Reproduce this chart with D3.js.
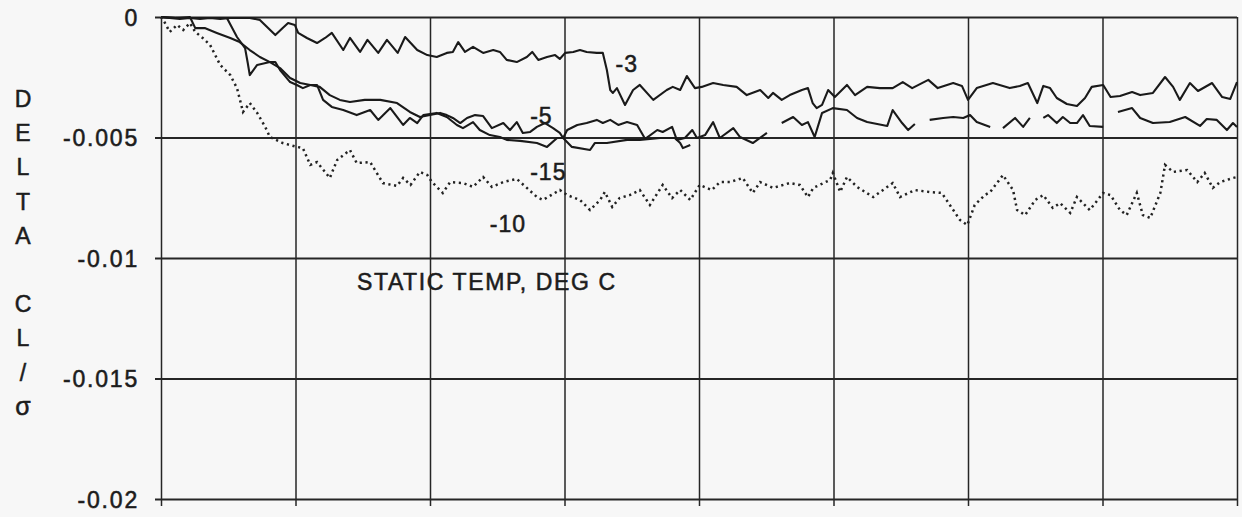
<!DOCTYPE html>
<html>
<head>
<meta charset="utf-8">
<script src="https://cdn.jsdelivr.net/npm/d3@7"></script>
<style>
  html, body { margin: 0; padding: 0; background: #f7f7f7; }
  svg { display: block; }
  text { font-family: "Liberation Sans", Arial, Helvetica, sans-serif; fill: #1c1c1c; stroke: #1c1c1c; stroke-width: 0.55px; }
</style>
</head>
<body>
<svg id="chart" width="1242" height="517"></svg>
<script>
// Change in lift coefficient over solidity vs. time step, by static temperature (deg C)
const xGrid = [0, 20, 40, 60, 80, 100, 120, 140, 160];
const yTicks = [0, -0.005, -0.01, -0.015, -0.02];
const yTickLabels = ["0", "-0.005", "-0.01", "-0.015", "-0.02"];
const axisTitle = ["D", "E", "L", "T", "A", "", "C", "L", "/", "σ"];

// static temperature -3 deg C
const seriesM3 = [[0,0],[1.3,-0.00004],[2.8,-0.00008],[4.3,-0.00004],[5.8,-0.00008],[7.3,-0.00004],[8.8,-0.00008],[10.3,-0.00004],[11.7,-0.00004],[13.2,-0.00004],[14.7,-0.00012],[17.0,-0.00075],[18.1,-0.00046],[18.9,-0.00025],[19.9,-0.00033],[20.4,-0.00066],[21.7,-0.00087],[23.2,-0.00108],[24.4,-0.00087],[25.4,-0.00066],[27.1,-0.00137],[28.1,-0.00087],[29.6,-0.00145],[30.7,-0.00095],[32.3,-0.00149],[33.6,-0.00095],[35.2,-0.00149],[36.3,-0.00083],[38.1,-0.00137],[39.6,-0.00158],[41.0,-0.00166],[42.5,-0.00149],[43.4,-0.00145],[44.2,-0.00104],[45.2,-0.00145],[46.4,-0.00124],[47.9,-0.00149],[49.4,-0.00137],[50.4,-0.00145],[51.4,-0.00178],[52.9,-0.00187],[54.4,-0.00166],[55.2,-0.00145],[56.1,-0.00178],[57.4,-0.00166],[58.6,-0.00158],[59.3,-0.00174],[60.1,-0.00149],[61.3,-0.00145],[62.3,-0.00137],[63.3,-0.00145],[64.8,-0.00149],[65.7,-0.00149],[66.3,-0.00220],[66.8,-0.00303],[67.2,-0.00315],[67.8,-0.00295],[69.0,-0.00365],[70.2,-0.00303],[71.2,-0.00282],[73.2,-0.00344],[75.2,-0.00303],[76.1,-0.00290],[77.2,-0.00303],[78.2,-0.00245],[79.4,-0.00295],[80.4,-0.00290],[82.1,-0.00274],[83.6,-0.00282],[85.6,-0.00290],[87.1,-0.00324],[89.1,-0.00303],[90.3,-0.00336],[91.0,-0.00315],[92.3,-0.00344],[93.5,-0.00324],[95.3,-0.00303],[96.2,-0.00295],[96.9,-0.00357],[97.5,-0.00378],[98.3,-0.00365],[99.2,-0.00303],[100.2,-0.00332],[102.0,-0.00282],[103.2,-0.00324],[105.0,-0.00290],[106.9,-0.00295],[108.8,-0.00295],[110.3,-0.00270],[111.7,-0.00295],[114.1,-0.00261],[115.5,-0.00295],[117.8,-0.00274],[119.1,-0.00286],[120.0,-0.00344],[121.3,-0.00295],[123.7,-0.00274],[126.2,-0.00295],[127.7,-0.00286],[128.9,-0.00274],[130.3,-0.00357],[131.2,-0.00286],[132.2,-0.00295],[133.2,-0.00336],[134.7,-0.00361],[136.2,-0.00369],[137.4,-0.00336],[138.4,-0.00290],[140.1,-0.00282],[141.2,-0.00332],[142.6,-0.00328],[144.4,-0.00311],[145.6,-0.00324],[147.5,-0.00315],[149.3,-0.00249],[150.5,-0.00290],[151.5,-0.00344],[153.0,-0.00274],[154.2,-0.00307],[156.3,-0.00274],[157.8,-0.00332],[159.0,-0.00340],[160.0,-0.00270]];

// static temperature -5 deg C (null marks missing samples)
const seriesM5 = [[0,0],[2.1,-0.00004],[4.3,0],[5.1,-0.00046],[6.5,-0.00046],[8.3,-0.00066],[10.3,-0.00087],[11.7,-0.00104],[13.2,-0.00137],[14.7,-0.00166],[16.2,-0.00187],[17.7,-0.00212],[19.2,-0.00253],[20.7,-0.00274],[22.2,-0.00282],[23.6,-0.00290],[25.1,-0.00324],[26.6,-0.00344],[28.1,-0.00353],[30.3,-0.00344],[32.6,-0.00344],[35.1,-0.00357],[37.0,-0.00394],[38.5,-0.00415],[40.0,-0.00407],[41.5,-0.00398],[42.5,-0.00407],[43.4,-0.00419],[44.5,-0.00440],[45.5,-0.00419],[46.7,-0.00407],[47.9,-0.00411],[49.2,-0.00461],[50.9,-0.00440],[51.9,-0.00469],[52.9,-0.00436],[53.8,-0.00481],[54.9,-0.00477],[55.9,-0.00456],[57.1,-0.00440],[58.3,-0.00461],[59.3,-0.00481],[59.8,-0.00502],[60.4,-0.00469],[61.9,-0.00448],[63.3,-0.00440],[64.8,-0.00427],[65.7,-0.00440],[66.8,-0.00427],[68.0,-0.00448],[69.3,-0.00436],[70.8,-0.00448],[72.0,-0.00506],[73.8,-0.00469],[74.6,-0.00477],[76.0,-0.00456],[76.7,-0.00510],[77.9,-0.00502],[79.0,-0.00469],[79.7,-0.00502],[80.9,-0.00490],[82.1,-0.00436],[83.1,-0.00502],[85.1,-0.00461],[86.1,-0.00498],[88.0,-0.00523],[90.1,-0.00481],[91.2,null],[92.3,-0.00440],[94.0,-0.00415],[95.3,-0.00448],[96.2,-0.00436],[97.2,-0.00498],[98.3,-0.00398],[99.9,-0.00378],[102.0,-0.00386],[103.5,-0.00419],[105.0,-0.00436],[108.0,-0.00452],[108.8,-0.00386],[110.2,-0.00440],[111.1,-0.00469],[112.1,-0.00444],[113.2,null],[114.3,-0.00427],[116.3,-0.00419],[117.8,-0.00415],[119.3,-0.00419],[120.3,-0.00407],[121.3,-0.00436],[123.3,-0.00456],[124.2,null],[125.2,-0.00461],[127.0,-0.00419],[128.2,-0.00456],[129.2,-0.00419],[130.2,null],[131.2,-0.00419],[131.9,-0.00407],[133.2,-0.00440],[134.1,-0.00415],[135.2,-0.00440],[136.2,-0.00440],[137.1,-0.00407],[138.1,-0.00452],[140.1,-0.00456],[141.2,null],[142.3,-0.00394],[144.4,-0.00378],[145.6,-0.00419],[147.5,-0.00440],[150.0,-0.00436],[152.3,-0.00415],[154.5,-0.00452],[155.5,-0.00423],[157.0,-0.00427],[158.5,-0.00469],[159.4,-0.00440],[160.0,-0.00456]];

// static temperature -15 deg C
const seriesM15 = [[0,0],[2.8,-0.00004],[5.8,-0.00004],[8.0,-0.00004],[9.8,-0.00004],[11.3,-0.00083],[12.5,-0.00129],[12.9,-0.00191],[13.2,-0.00241],[14.3,-0.00199],[16.2,-0.00187],[17.0,-0.00187],[17.7,-0.00220],[19.2,-0.00270],[20.2,-0.00282],[21.1,-0.00295],[22.2,-0.00282],[23.2,-0.00282],[24.1,-0.00344],[25.4,-0.00373],[27.1,-0.00386],[29.1,-0.00407],[31.1,-0.00386],[32.3,-0.00427],[34.1,-0.00378],[36.0,-0.00448],[37.0,-0.00419],[38.1,-0.00440],[39.0,-0.00407],[41.0,-0.00398],[42.5,-0.00415],[44.0,-0.00448],[44.9,-0.00461],[46.4,-0.00436],[47.4,-0.00469],[48.9,-0.00490],[50.4,-0.00498],[51.4,-0.00510],[53.4,-0.00514],[55.9,-0.00523],[57.4,-0.00539],[58.9,-0.00502],[59.8,-0.00502],[61.1,-0.00539],[63.8,-0.00552],[64.5,-0.00523],[66.3,-0.00523],[69.3,-0.00510],[71.2,-0.00510],[74.2,-0.00502],[76.4,-0.00502],[77.2,-0.00523],[77.6,-0.00544],[78.7,-0.00531]];

// static temperature -10 deg C
const seriesM10 = [[0,0],[0.6,-0.00025],[1.3,-0.00062],[2.4,-0.00033],[3.3,-0.00054],[4.3,-0.00025],[5.1,-0.00062],[6.2,-0.00087],[7.3,-0.00116],[8.8,-0.00199],[10.3,-0.00241],[11.3,-0.00295],[12.2,-0.00394],[13.2,-0.00357],[14.3,-0.00398],[15.5,-0.00456],[16.2,-0.00498],[18.1,-0.00523],[20.2,-0.00539],[21.1,-0.00544],[22.2,-0.00614],[23.2,-0.00602],[25.1,-0.00668],[26.2,-0.00593],[28.1,-0.00552],[29.1,-0.00606],[31.1,-0.00602],[33.0,-0.00689],[35.1,-0.00701],[36.0,-0.00668],[37.1,-0.00697],[38.5,-0.00643],[39.6,-0.00656],[40.3,-0.00685],[41.9,-0.00730],[43.0,-0.00685],[44.9,-0.00689],[46.4,-0.00705],[47.9,-0.00664],[49.2,-0.00705],[50.9,-0.00685],[52.9,-0.00672],[54.4,-0.00709],[55.9,-0.00747],[56.8,-0.00759],[59.3,-0.00718],[60.4,-0.00739],[62.3,-0.00759],[63.8,-0.00801],[65.3,-0.00759],[66.0,-0.00726],[67.1,-0.00788],[68.2,-0.00751],[69.7,-0.00739],[71.2,-0.00718],[72.7,-0.00780],[74.6,-0.00697],[76.0,-0.00751],[77.2,-0.00718],[78.7,-0.00759],[80.1,-0.00697],[81.9,-0.00718],[83.1,-0.00685],[84.6,-0.00685],[86.5,-0.00668],[88.0,-0.00730],[89.1,-0.00685],[91.0,-0.00709],[93.5,-0.00689],[95.0,-0.00697],[96.2,-0.00747],[97.0,-0.00709],[99.5,-0.00676],[99.9,-0.00647],[101.0,-0.00726],[102.0,-0.00664],[103.5,-0.00705],[105.9,-0.00747],[108.8,-0.00689],[109.9,-0.00747],[112.1,-0.00718],[114.3,-0.00726],[116.1,-0.00730],[117.3,-0.00780],[118.8,-0.00842],[119.9,-0.00863],[121.0,-0.00780],[122.5,-0.00739],[123.3,-0.00726],[125.2,-0.00656],[126.7,-0.00718],[127.3,-0.00801],[128.5,-0.00822],[130.0,-0.00759],[131.2,-0.00739],[132.6,-0.00792],[133.7,-0.00772],[135.2,-0.00813],[136.2,-0.00747],[138.1,-0.00801],[140.1,-0.00730],[141.2,-0.00739],[142.6,-0.00801],[143.6,-0.00822],[145.1,-0.00730],[146.0,-0.00822],[147.1,-0.00834],[148.6,-0.00730],[149.3,-0.00614],[150.5,-0.00643],[152.6,-0.00635],[154.1,-0.00685],[155.2,-0.00647],[156.4,-0.00709],[157.5,-0.00685],[159.4,-0.00668],[160.0,-0.00664]];

// in-plot labels: [text, x, value]
const curveLabels = [["-3", 67.6, -0.00228], ["-5", 54.9, -0.00442], ["-15", 54.9, -0.00676], ["-10", 48.9, -0.00893]];
const captionText = "STATIC TEMP, DEG C";

const svg = d3.select("#chart");
const plotLeft = 161, plotRight = 1237, plotTop = 17, plotBottom = 499;

const x = d3.scaleLinear().domain([0, 160]).range([plotLeft, plotRight]);
const y = d3.scaleLinear().domain([0, -0.02]).range([plotTop, plotBottom]);

const ink = "#262626";

// vertical grid lines with small ticks below the plot
svg.append("g")
  .attr("transform", `translate(0,${plotBottom})`)
  .call(d3.axisBottom(x).tickValues(xGrid).tickSize(-(plotBottom - plotTop)).tickSizeOuter(0).tickFormat(""))
  .call(g => g.select(".domain").remove())
  .call(g => g.selectAll("line").attr("stroke", ink).attr("stroke-width", 1.5).attr("y1", 7));

// horizontal grid lines with tick marks to the left
svg.append("g")
  .attr("transform", `translate(${plotRight},0)`)
  .call(d3.axisLeft(y).tickValues(yTicks).tickSize(plotRight - plotLeft + 6).tickSizeOuter(0).tickFormat(""))
  .call(g => g.select(".domain").remove())
  .call(g => g.selectAll("line").attr("stroke", ink).attr("stroke-width", 2.2));

// y tick labels
svg.append("g")
  .attr("transform", `translate(${plotLeft},0)`)
  .call(d3.axisLeft(y).tickValues(yTicks).tickSize(0).tickPadding(22)
    .tickFormat((d, i) => yTickLabels[i]))
  .call(g => g.select(".domain").remove())
  .call(g => g.selectAll("text")
    .attr("font-size", 23).attr("letter-spacing", "1.8px")
    .attr("font-family", "'Liberation Sans', Arial, sans-serif")
    .attr("fill", "#1c1c1c").attr("dy", "0.36em"));

// stacked axis title
svg.append("g").selectAll("text")
  .data(axisTitle)
  .join("text")
  .attr("x", 23)
  .attr("y", (d, i) => 107 + i * 34.2)
  .attr("text-anchor", "middle")
  .attr("font-size", d => d === "σ" ? 25 : 23)
  .attr("font-family", d => d === "σ" ? "'Liberation Serif', 'Times New Roman', serif" : null)
  .text(d => d);

const line = d3.line()
  .defined(d => d[1] !== null)
  .x(d => x(d[0]))
  .y(d => y(d[1]));

const solid = [seriesM3, seriesM5, seriesM15];
svg.append("g").selectAll("path")
  .data(solid)
  .join("path")
  .attr("d", line)
  .attr("fill", "none")
  .attr("stroke", "#1a1a1a")
  .attr("stroke-width", 2.1)
  .attr("stroke-linejoin", "round");

svg.append("path")
  .datum(seriesM10)
  .attr("d", line)
  .attr("fill", "none")
  .attr("stroke", "#222")
  .attr("stroke-width", 2.5)
  .attr("stroke-dasharray", "2.2,3.6");

// curve labels
svg.append("g").selectAll("text")
  .data(curveLabels)
  .join("text")
  .attr("x", d => x(d[1]))
  .attr("y", d => y(d[2]))
  .attr("font-size", 23)
  .attr("letter-spacing", "1px")
  .text(d => d[0]);

svg.append("text")
  .attr("x", 357)
  .attr("y", 290)
  .attr("font-size", 23)
  .attr("letter-spacing", "1.6px")
  .text(captionText);
</script>
</body>
</html>
